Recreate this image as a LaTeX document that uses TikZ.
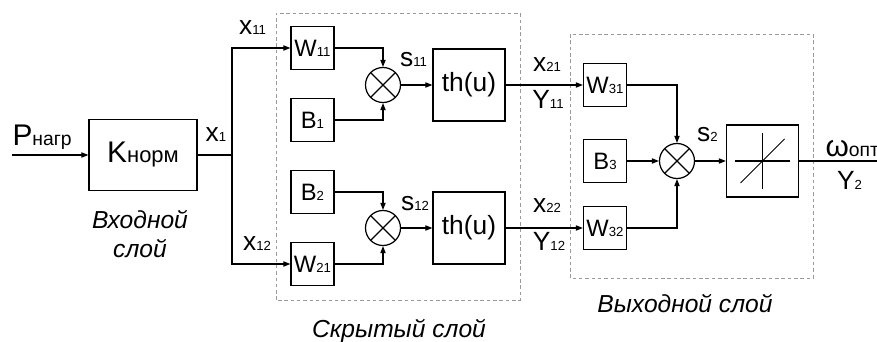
\documentclass[tikz,border=0pt]{standalone}
\usepackage{fontspec}
\setmainfont{Liberation Sans}
\usepackage{xcolor}
\usepackage{tikz}
\usetikzlibrary{arrows.meta}
\definecolor{NNGray}{HTML}{9A9A9A}
\newcommand{\idx}[1]{{\fontsize{7.5}{9}\selectfont #1}}
\newcommand{\idxw}[1]{{\fontsize{11}{13}\selectfont #1}}

\begin{document}
\begin{tikzpicture}[x=1cm,y=1cm,
  line width=.6pt,
  >={Triangle[length=4pt,width=3pt]},
  blk/.style={draw,line width=.7pt,inner sep=0pt,font=\fontsize{15}{17}\selectfont},
  wbox/.style={blk,minimum width=.86cm,minimum height=.86cm,font=\fontsize{13.5}{15}\selectfont},
  bigbox/.style={blk,minimum width=1.44cm,minimum height=1.44cm},
  mult/.style={draw,circle,line width=.7pt,minimum size=.70cm,inner sep=0pt,
    path picture={\draw (path picture bounding box.north west) -- (path picture bounding box.south east)
      (path picture bounding box.north east) -- (path picture bounding box.south west);}},
  lbl/.style={anchor=base,inner sep=0pt,font=\fontsize{15}{17}\selectfont},
  layer/.style={align=center,inner sep=0pt,font=\fontsize{14}{16}\selectfont\itshape},
  frame/.style={draw=NNGray,line width=.5pt,dash pattern=on 2pt off 1.6pt}]
\path[use as bounding box] (0,0) rectangle (17.54,6.84);
\fill[white] (0,0) rectangle (17.54,6.84);
% layer frames
\draw[frame] (5.52,0.84) rectangle (10.40,6.58);
\draw[frame] (11.40,1.28) rectangle (16.26,6.16);
% input layer
\coordinate (in) at (0.24,3.74);
\node[blk,minimum width=2.16cm,minimum height=1.42cm,font=\fontsize{17}{19}\selectfont] (norm) at (2.86,3.74) {K{\fontsize{12.5}{14}\selectfont норм}};
\coordinate (br) at (4.64,3.74);
% hidden layer
\node[wbox] (w11) at (6.25,5.88) {W\idx{11}};
\node[wbox] (b1) at (6.25,4.44) {B\idx{1}};
\node[mult] (m1) at (7.66,5.14) {};
\node[bigbox] (th1) at (9.38,5.14) {th(u)};
\node[wbox] (b2) at (6.25,3.00) {B\idx{2}};
\node[wbox] (w21) at (6.25,1.56) {W\idx{21}};
\node[mult] (m2) at (7.66,2.28) {};
\node[bigbox] (th2) at (9.38,2.28) {th(u)};
% output layer
\node[wbox] (w31) at (12.10,5.14) {W\idx{31}};
\node[wbox] (b3) at (12.10,3.62) {B\idx{3}};
\node[wbox] (w32) at (12.10,2.28) {W\idx{32}};
\node[mult] (m3) at (13.54,3.62) {};
\node[bigbox] (lin) at (15.25,3.62) {};
\draw ([xshift=-.55cm]lin.center) -- ([xshift=.55cm]lin.center);
\draw ([yshift=-.56cm]lin.center) -- ([yshift=.56cm]lin.center);
\draw ([shift={(-.44,-.44)}]lin.center) -- ([shift={(.44,.44)}]lin.center);
\coordinate (out) at (17.54,3.62);
% connectors
\draw[->] (in) -- (norm);
\draw (norm) -- (br);
\draw[->] (br) |- (w11);
\draw[->] (br) |- (w21);
\draw[->] (w11) -| (m1);
\draw[->] (b1) -| (m1);
\draw[->] (m1) -- (th1);
\draw[->] (b2) -| (m2);
\draw[->] (w21) -| (m2);
\draw[->] (m2) -- (th2);
\draw[->] (th1) -- (w31);
\draw[->] (th2) -- (w32);
\draw[->] (w31) -| (m3);
\draw[->] (b3) -- (m3);
\draw[->] (w32) -| (m3);
\draw[->] (m3) -- (lin);
\draw (lin) -- (out);
% signal labels
\node[lbl,anchor=base west] (pin) at (0.24,3.92) {\fontsize{17}{19}\selectfont P\idxw{нагр}};
\node[lbl] (x1) at (4.32,4.00) {x\idx{1}};
\node[lbl] (x11) at (5.05,6.14) {x\idx{11}};
\node[lbl] (x12) at (5.14,1.82) {x\idx{12}};
\node[lbl] (s11) at (8.27,5.50) {s\idx{11}};
\node[lbl] (s12) at (8.30,2.62) {s\idx{12}};
\node[lbl] (x21) at (10.94,5.40) {x\idx{21}};
\node[lbl] (y11) at (10.96,4.66) {Y\idx{11}};
\node[lbl] (x22) at (10.94,2.58) {x\idx{22}};
\node[lbl] (y12) at (10.98,1.82) {Y\idx{12}};
\node[lbl] (s2) at (14.15,4.00) {s\idx{2}};
\node[lbl,anchor=base west] (wout) at (16.50,3.70) {\fontsize{17}{19}\selectfont ω\idxw{опт}};
\node[lbl] (y2) at (16.99,3.04) {Y\idx{2}};
% layer names
\node[layer] (inname) at (2.80,2.16) {Входной\\слой};
\node[layer,anchor=base] (hidname) at (7.98,0.08) {Скрытый слой};
\node[layer,anchor=base] (outname) at (13.70,0.58) {Выходной слой};
\end{tikzpicture}
\end{document}
